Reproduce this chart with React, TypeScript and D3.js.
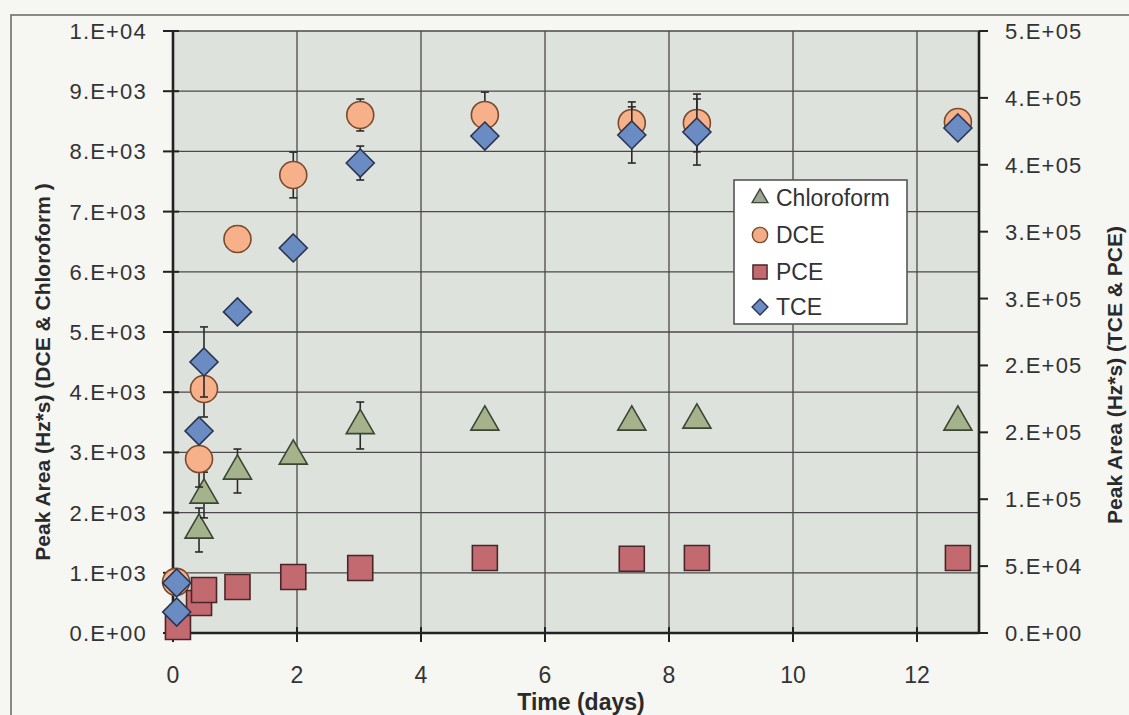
import React from 'react';
import * as d3 from 'd3';

const W = 1129;
const H = 715;

// Axis ticks
const xTicks = [0, 2, 4, 6, 8, 10, 12];
const xGrid = [2, 4, 6, 8, 10, 12];
const leftTicks = [0, 1000, 2000, 3000, 4000, 5000, 6000, 7000, 8000, 9000, 10000];
const leftTickLabels = ['0.E+00', '1.E+03', '2.E+03', '3.E+03', '4.E+03', '5.E+03', '6.E+03', '7.E+03', '8.E+03', '9.E+03', '1.E+04'];
const rightTicks = [0, 50000, 100000, 150000, 200000, 250000, 300000, 350000, 400000, 450000];
const rightTickLabels = ['0.E+00', '5.E+04', '1.E+05', '2.E+05', '2.E+05', '3.E+05', '3.E+05', '4.E+05', '4.E+05', '5.E+05'];

// Chloroform (left axis)
const chloroformTime = [0.42, 0.5, 1.04, 1.94, 3.02, 5.03, 7.4, 8.45, 12.66];
const chloroformValue = [1711, 2292, 2691, 2940, 3447, 3505, 3505, 3538, 3505];
const chloroformError = [365, 380, 365, 0, 390, 0, 0, 0, 0];

// DCE (left axis)
const dceTime = [0.05, 0.42, 0.5, 1.04, 1.94, 3.02, 5.03, 7.4, 8.45, 12.66];
const dceValue = [850, 2890, 4053, 6545, 7608, 8605, 8605, 8472, 8472, 8488];
const dceError = [0, 465, 465, 216, 380, 265, 380, 350, 480, 0];

// PCE (right axis)
const pceTime = [0.08, 0.42, 0.5, 1.04, 1.94, 3.02, 5.03, 7.4, 8.45, 12.66];
const pceValue = [4500, 22400, 32100, 34400, 41900, 48600, 56100, 55500, 56100, 56100];
const pceError = [0, 0, 0, 0, 0, 0, 0, 0, 0, 0];

// TCE (right axis)
const tceTime = [0.06, 0.06, 0.42, 0.5, 1.04, 1.94, 3.02, 5.03, 7.4, 8.45, 12.66];
const tceValue = [15700, 37400, 151000, 202600, 240000, 287800, 351300, 371500, 372300, 374500, 377500];
const tceError = [0, 0, 0, 26200, 0, 0, 12700, 0, 21000, 24700, 0];

const seriesNames = ['Chloroform', 'DCE', 'PCE', 'TCE'];

const FONT = '"Liberation Sans", Arial, Helvetica, sans-serif';

const plotLeft = 173;
const plotRight = 979;
const plotTop = 31;
const plotBottom = 633;

const x = d3.scaleLinear().domain([0, 13]).range([plotLeft, plotRight]);
const yL = d3.scaleLinear().domain([0, 10000]).range([plotBottom, plotTop]);
const yR = d3.scaleLinear().domain([0, 450000]).range([plotBottom, plotTop]);

const diamondType = {
  draw(ctx: any, size: number) {
    const r = Math.sqrt(size / 2);
    ctx.moveTo(0, -r);
    ctx.lineTo(r, 0);
    ctx.lineTo(0, r);
    ctx.lineTo(-r, 0);
    ctx.closePath();
  },
};

const styles: Record<string, any> = {
  Chloroform: { type: d3.symbolTriangle, size: 340, fill: '#a4b38c', stroke: '#3d4634', legendFill: '#9ea496' },
  DCE: { type: d3.symbolCircle, size: Math.PI * 13.5 * 13.5, fill: '#f6b08a', stroke: '#7a4a2c', legendFill: '#f2ad88' },
  PCE: { type: d3.symbolSquare, size: 625, fill: '#c26a70', stroke: '#4a2628', legendFill: '#c26a70' },
  TCE: { type: diamondType, size: 392, fill: '#6a8cc2', stroke: '#2a3450', legendFill: '#6a8cc2' },
};

type Pt = { t: number; v: number; e: number };

function zip(t: number[], v: number[], e: number[]): Pt[] {
  return t.map((tt, i) => ({ t: tt, v: v[i], e: e[i] }));
}

const seriesData: { name: string; pts: Pt[]; y: d3.ScaleLinear<number, number> }[] = [
  { name: 'Chloroform', pts: zip(chloroformTime, chloroformValue, chloroformError), y: yL },
  { name: 'DCE', pts: zip(dceTime, dceValue, dceError), y: yL },
  { name: 'PCE', pts: zip(pceTime, pceValue, pceError), y: yR },
  { name: 'TCE', pts: zip(tceTime, tceValue, tceError), y: yR },
];

function Series({ name, pts, y }: { name: string; pts: Pt[]; y: d3.ScaleLinear<number, number> }) {
  const st = styles[name];
  const path = d3.symbol().type(st.type).size(st.size)() as string;
  return (
    <g>
      {pts.map((p, i) => {
        const cx = x(p.t);
        const cy = y(p.v);
        const hasE = p.e > 0;
        const y1 = y(p.v + p.e);
        const y2 = y(p.v - p.e);
        return (
          <g key={i}>
            {hasE && (
              <g stroke="#2a2a2a" strokeWidth={1.6}>
                <line x1={cx} x2={cx} y1={y1} y2={y2} />
                <line x1={cx - 4} x2={cx + 4} y1={y1} y2={y1} />
                <line x1={cx - 4} x2={cx + 4} y1={y2} y2={y2} />
              </g>
            )}
            <path d={path} transform={`translate(${cx},${cy})`} fill={st.fill} stroke={st.stroke} strokeWidth={1.6} />
          </g>
        );
      })}
    </g>
  );
}

export default function App() {
  const legendX = 734;
  const legendY = 180;
  const legendW = 173;
  const legendH = 144;
  const legendRowY = [198, 235, 272, 307];

  return (
    <svg
      width={W}
      height={H}
      viewBox={`0 0 ${W} ${H}`}
      style={{ position: 'absolute', left: 0, top: 0, display: 'block' }}
      fontFamily={FONT}
    >
      <rect x={0} y={0} width={W} height={H} fill="#f6f6f3" />
      {/* outer chart frame */}
      <rect x={11} y={15} width={1140} height={740} fill="none" stroke="#6e6e6e" strokeWidth={1.6} />

      {/* plot background */}
      <rect x={plotLeft} y={plotTop} width={plotRight - plotLeft} height={plotBottom - plotTop} fill="#dee2dc" />

      {/* grid */}
      <g stroke="#4a4a4a" strokeWidth={1.3}>
        {leftTicks.slice(1).map((v, i) => (
          <line key={'h' + i} x1={plotLeft} x2={plotRight} y1={yL(v)} y2={yL(v)} />
        ))}
        {xGrid.map((t, i) => (
          <line key={'v' + i} x1={x(t)} x2={x(t)} y1={plotTop} y2={plotBottom} />
        ))}
      </g>

      {/* axes */}
      <g stroke="#222" strokeWidth={2.6}>
        <line x1={plotLeft} x2={plotLeft} y1={plotTop} y2={plotBottom} />
        <line x1={plotRight} x2={plotRight} y1={plotTop} y2={plotBottom} />
        <line x1={plotLeft} x2={plotRight} y1={plotBottom} y2={plotBottom} />
      </g>

      {/* ticks */}
      <g stroke="#222" strokeWidth={2}>
        {leftTicks.map((v, i) => (
          <line key={'lt' + i} x1={plotLeft - 10} x2={plotLeft + 6} y1={yL(v)} y2={yL(v)} />
        ))}
        {rightTicks.map((v, i) => (
          <line key={'rt' + i} x1={plotRight} x2={plotRight + 9} y1={yR(v)} y2={yR(v)} />
        ))}
        {xTicks.map((t, i) => (
          <line key={'xt' + i} x1={x(t)} x2={x(t)} y1={plotBottom - 6} y2={plotBottom + 9} />
        ))}
      </g>

      {/* tick labels */}
      <g fontSize={22} fill="#333" letterSpacing={1.2}>
        {leftTicks.map((v, i) => (
          <text key={'ll' + i} x={147} y={yL(v) + 8} textAnchor="end">
            {leftTickLabels[i]}
          </text>
        ))}
        {rightTicks.map((v, i) => (
          <text key={'rl' + i} x={1005} y={yR(v) + 8} textAnchor="start">
            {rightTickLabels[i]}
          </text>
        ))}
      </g>
      <g fontSize={23} fill="#333">
        {xTicks.map((t, i) => (
          <text key={'xl' + i} x={x(t)} y={683} textAnchor="middle">
            {t}
          </text>
        ))}
      </g>

      {/* axis titles */}
      <text x={581} y={710} textAnchor="middle" fontSize={23} fontWeight="bold" fill="#2a2a2a">
        Time (days)
      </text>
      <text
        transform="translate(50,372) rotate(-90)"
        textAnchor="middle"
        fontSize={21}
        fontWeight="bold"
        fill="#2a2a2a"
      >
        Peak Area (Hz*s) (DCE &amp; Chloroform )
      </text>
      <text
        transform="translate(1122,375) rotate(-90)"
        textAnchor="middle"
        fontSize={21}
        fontWeight="bold"
        fill="#2a2a2a"
      >
        Peak Area (Hz*s) (TCE &amp; PCE)
      </text>

      {/* series */}
      {seriesData.map((s) => (
        <Series key={s.name} name={s.name} pts={s.pts} y={s.y} />
      ))}

      {/* legend */}
      <rect x={legendX} y={legendY} width={legendW} height={legendH} fill="#ffffff" stroke="#555" strokeWidth={1.6} />
      {seriesNames.map((n, i) => {
        const st = styles[n];
        const p = d3.symbol().type(st.type).size(st.size * 0.32)() as string;
        return (
          <g key={n}>
            <path d={p} transform={`translate(${760},${legendRowY[i]})`} fill={st.legendFill} stroke={st.stroke} strokeWidth={1.4} />
            <text x={776} y={legendRowY[i] + 8} fontSize={23} fill="#333">
              {n}
            </text>
          </g>
        );
      })}
    </svg>
  );
}
